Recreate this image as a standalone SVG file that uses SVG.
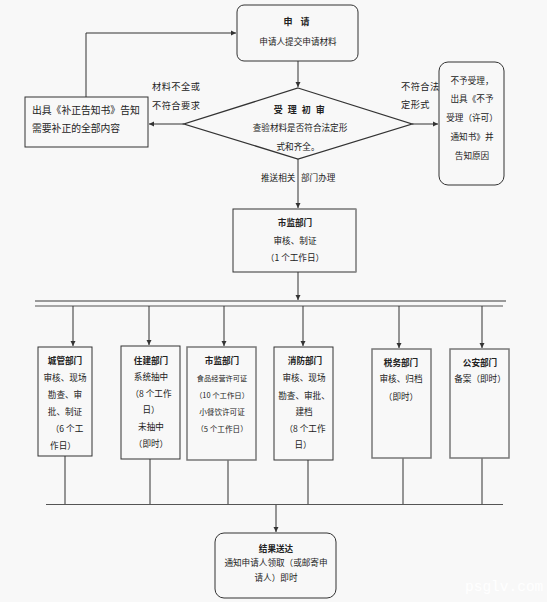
<svg xmlns="http://www.w3.org/2000/svg" width="547" height="602" viewBox="0 0 547 602">
<defs>
<marker id="ah" markerWidth="6" markerHeight="6" refX="5" refY="3" orient="auto" markerUnits="userSpaceOnUse">
<path d="M0,0.5 L5,3 L0,5.5 Z" fill="#333"/>
</marker>
<style>
text{font-family:"Noto Sans CJK SC","Noto Sans CJK JP",sans-serif;fill:#222;font-size:8.6px}
.c{text-anchor:middle}
.b{font-weight:bold}
.box{fill:none;stroke:#333;stroke-width:1}
.gbox{fill:none;stroke:#777;stroke-width:1.5}
.ln{fill:none;stroke:#333;stroke-width:1}
.lbl{font-size:9.2px;letter-spacing:0.5px}
</style>
</defs>
<rect width="547" height="602" fill="#f8f8f8"/>

<g id="connectors">
<path class="ln" d="M86,97 V33 H236" marker-end="url(#ah)"/>
<path class="ln" d="M298,61 V87" marker-end="url(#ah)"/>
<path class="ln" d="M184,124 H149" marker-end="url(#ah)"/>
<path class="ln" d="M412,124 H438" marker-end="url(#ah)"/>
<path class="ln" d="M298,159 V208" marker-end="url(#ah)"/>
<path class="ln" d="M298,272 V300" marker-end="url(#ah)"/>
<line x1="35" y1="301" x2="506" y2="301" stroke="#999" stroke-width="2"/>
<line x1="35" y1="306" x2="503" y2="306" stroke="#555" stroke-width="1"/>
<path class="ln" d="M73,306 V346" marker-end="url(#ah)"/>
<path class="ln" d="M149,306 V345" marker-end="url(#ah)"/>
<path class="ln" d="M224,306 V346" marker-end="url(#ah)"/>
<path class="ln" d="M303,306 V346" marker-end="url(#ah)"/>
<path class="ln" d="M399,306 V348" marker-end="url(#ah)"/>
<path class="ln" d="M482,306 V348" marker-end="url(#ah)"/>
<path class="ln" d="M65,456 V504"/>
<path class="ln" d="M150,459 V504"/>
<path class="ln" d="M228,460 V504"/>
<path class="ln" d="M308,460 V504"/>
<path class="ln" d="M403,458 V504"/>
<path class="ln" d="M482,458 V504"/>
<line x1="46" y1="504.5" x2="503" y2="504.5" stroke="#555" stroke-width="1"/>
<path class="ln" d="M276,505 V532" marker-end="url(#ah)"/>
<text class="lbl" x="152" y="90">材料不全或</text>
<text class="lbl" x="152" y="109">不符合要求</text>
<text class="lbl" x="401" y="90">不符合法</text>
<text class="lbl" x="401" y="108">定形式</text>
<text x="261" y="181">推送相关</text>
<text x="301" y="181">部门办理</text>
</g>

<g id="apply">
<rect class="box" x="237" y="5" width="121" height="56" rx="7"/>
<text class="c b" x="298" y="25" style="font-size:9px;letter-spacing:3px">申 请</text>
<text class="c" x="298" y="45">申请人提交申请材料</text>
</g>

<g id="correction">
<rect class="box" x="25" y="97" width="123" height="50"/>
<text x="32" y="114" style="font-size:9.8px">出具《补正告知书》告知</text>
<text x="32" y="132" style="font-size:9.8px">需要补正的全部内容</text>
</g>

<g id="review">
<polygon class="box" points="298,88 412,124 298,159 184,124" style="stroke-width:1.3"/>
<text class="c b" x="300" y="113" style="font-size:9px;letter-spacing:1.5px">受 理 初 审</text>
<text class="c" x="300" y="131">查验材料是否符合法定形</text>
<text class="c" x="298" y="150">式和齐全。</text>
</g>

<g id="reject">
<rect class="box" x="439" y="62" width="65" height="123" rx="9"/>
<text class="c" x="472" y="84">不予受理，</text>
<text class="c" x="472" y="102">出具《不予</text>
<text class="c" x="472" y="121">受理（许可）</text>
<text class="c" x="472" y="140">通知书》并</text>
<text class="c" x="472" y="159">告知原因</text>
</g>

<g id="market1">
<rect class="box" x="233" y="209" width="123" height="63"/>
<line x1="356" y1="209" x2="356" y2="272" stroke="#999" stroke-width="1.5"/>
<text class="c b" x="295" y="226">市监部门</text>
<text class="c" x="295" y="244">审核、制证</text>
<text class="c" x="295" y="261">（1 个工作日）</text>
</g>

<g id="urban">
<rect class="box" x="38" y="347" width="54" height="109"/>
<text class="c b" x="65" y="364">城管部门</text>
<text class="c" x="65" y="381">审核、现场</text>
<text class="c" x="65" y="398">勘查、审</text>
<text class="c" x="65" y="415">批、制证</text>
<text class="c" x="67" y="432">（6 个工</text>
<text class="c" x="63" y="449">作日）</text>
</g>

<g id="housing">
<rect class="box" x="121" y="346" width="59" height="113"/>
<text class="c b" x="151" y="364">住建部门</text>
<text class="c" x="151" y="380">系统抽中</text>
<text class="c" x="151" y="397">（8 个工作</text>
<text class="c" x="151" y="413">日）</text>
<text class="c" x="151" y="430">未抽中</text>
<text class="c" x="151" y="447">（即时）</text>
</g>

<g id="market2">
<rect class="gbox" x="187" y="347" width="69" height="113"/>
<text class="c b" x="222" y="364">市监部门</text>
<text class="c" x="222" y="381" style="font-size:7.2px">食品经营许可证</text>
<text class="c" x="222" y="398" style="font-size:7.4px">（10 个工作日）</text>
<text class="c" x="222" y="415" style="font-size:7.6px">小餐饮许可证</text>
<text class="c" x="222" y="432" style="font-size:7.6px">（5 个工作日）</text>
</g>

<g id="fire">
<rect class="box" x="274" y="347" width="59" height="113"/>
<text class="c b" x="305" y="364">消防部门</text>
<text class="c" x="304" y="381">审核、现场</text>
<text class="c" x="304" y="399">勘查、审批、</text>
<text class="c" x="304" y="415">建档</text>
<text class="c" x="305" y="432">（8 个工作</text>
<text class="c" x="303" y="448">日）</text>
</g>

<g id="tax">
<rect class="gbox" x="372" y="349" width="59" height="109"/>
<text class="c b" x="401" y="366">税务部门</text>
<text class="c" x="401" y="382">审核、归档</text>
<text class="c" x="401" y="400">（即时）</text>
</g>

<g id="police">
<rect class="gbox" x="450" y="349" width="59" height="109"/>
<text class="c b" x="480" y="366">公安部门</text>
<text class="c" x="480" y="382">备案（即时）</text>
</g>

<g id="result">
<rect class="box" x="215" y="533" width="121" height="65" rx="9"/>
<text class="c b" x="276" y="552">结果送达</text>
<text class="c" x="276" y="566">通知申请人领取（或邮寄申</text>
<text class="c" x="276" y="581">请人）即时</text>
</g>

<text x="465" y="591" style="font-family:'Liberation Mono',monospace;font-size:14.5px;fill:#ffffff">psglv.com</text>
</svg>
